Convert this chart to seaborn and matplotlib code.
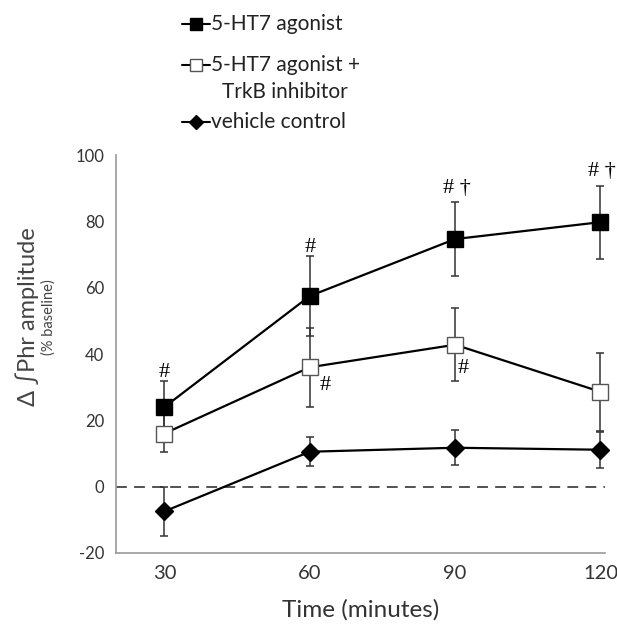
import matplotlib
matplotlib.use("Agg")
import matplotlib.pyplot as plt
import seaborn as sns
import numpy as np
import pandas as pd
from matplotlib.lines import Line2D

time = [30, 60, 90, 120]
agonist = [24.0, 57.5, 74.7, 79.8]
agonist_err = [8.0, 12.0, 11.3, 11.0]
trkb = [16.0, 36.0, 42.8, 28.6]
trkb_err = [5.5, 12.0, 11.0, 11.7]
vehicle = [-7.5, 10.5, 11.7, 11.1]
vehicle_err = [7.5, 4.4, 5.3, 5.4]
series_names = ["5-HT7 agonist", "5-HT7 agonist +", "vehicle control"]
series_extra = "TrkB inhibitor"
xticks = [30, 60, 90, 120]
yticks = [-20, 0, 20, 40, 60, 80, 100]
# annotations: (x, y, text)
annots = [(30, 34.3, "#"), (60, 72.3, "#"), (90.3, 90, "# \u2020"), (120.3, 95, "# \u2020"),
          (63.2, 30.4, "#"), (91.6, 35.5, "#")]

sns.set_theme(style="white")
plt.rcParams['font.family'] = ['Lato', 'DejaVu Sans']
plt.rcParams['axes.unicode_minus'] = False

fig = plt.figure(figsize=(6.17, 6.26), dpi=100)
ax = fig.add_axes([0.188, 0.117, 0.793, 0.635])

gray = "#9a9a9a"
ax.axhline(0, color="#444444", lw=1.3, ls=(0, (6, 4)), zorder=1)

specs = [
    (agonist, agonist_err, dict(marker="s", mfc="black", mec="black", ms=11)),
    (trkb, trkb_err, dict(marker="s", mfc="white", mec="#555555", ms=11, mew=1.0)),
    (vehicle, vehicle_err, dict(marker="D", mfc="black", mec="black", ms=9.5)),
]
for vals, errs, mk in specs:
    ax.errorbar(time, vals, yerr=errs, fmt="none", ecolor="#333333", elinewidth=1.1,
                capsize=3, capthick=1.1, zorder=2)
    df = pd.DataFrame({"t": time, "v": vals})
    sns.lineplot(data=df, x="t", y="v", ax=ax, color="black", lw=1.6,
                 markers=False, zorder=3)
    ax.plot(time, vals, ls="none", zorder=4, clip_on=False, **mk)

for x, y, t in annots:
    ax.text(x, y, t, ha="center", va="center", fontsize=16,
            family=["Liberation Serif", "DejaVu Serif"], color="black", clip_on=False)

ax.set_xlim(20, 121)
ax.set_ylim(-20, 100)
ax.set_xticks(xticks)
ax.set_yticks(yticks)
ax.tick_params(axis="both", which="both", direction="out", length=5, width=1,
               color=gray, labelsize=12, labelcolor="#333333")
ax.tick_params(axis="x", labelsize=14.5, pad=4)
for s in ["top", "right"]:
    ax.spines[s].set_visible(False)
for s in ["left", "bottom"]:
    ax.spines[s].set_color(gray)
    ax.spines[s].set_linewidth(1.2)

ax.set_xlabel("Time (minutes)", fontsize=17.5, color="#333333", labelpad=12)
ax.set_ylabel("")
fig.text(0.044, 0.494, "\u0394 \u222bPhr amplitude", rotation=90, ha="center", va="center",
         fontsize=17, color="#444444")
fig.text(0.079, 0.494, "(% baseline)", rotation=90, ha="center", va="center",
         fontsize=10.5, color="#444444")

# legend (drawn in figure coordinates)
W, H = 617.0, 626.0
leg_y = [24, 65, 122]
leg_mk = [dict(marker="s", mfc="black", mec="black", ms=8),
          dict(marker="s", mfc="white", mec="#555555", ms=8, mew=1.0),
          dict(marker="D", mfc="black", mec="black", ms=7)]
for yy, name, mk in zip(leg_y, series_names, leg_mk):
    fy = 1 - yy / H
    fig.add_artist(Line2D([182 / W, 210 / W], [fy, fy], color="black", lw=1.5,
                          transform=fig.transFigure))
    fig.add_artist(Line2D([196 / W], [fy], ls="none", transform=fig.transFigure, **mk))
    fig.text(211 / W, fy, name, ha="left", va="center", fontsize=15, color="#222222")
fig.text(211 / W + 0.018, 1 - 92 / H, series_extra, ha="left", va="center", fontsize=15,
         color="#222222")

fig.savefig("out.png", dpi=100)
